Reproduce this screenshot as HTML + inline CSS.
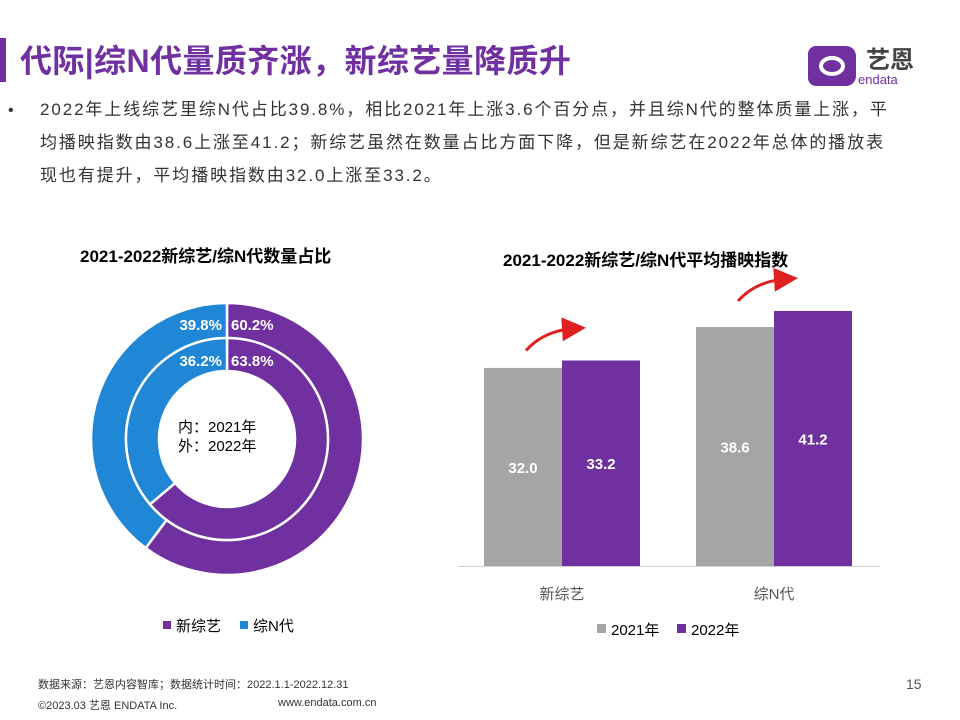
<!DOCTYPE html>
<html><head><meta charset="utf-8"><style>
body{margin:0;width:960px;height:720px;background:#fff;position:relative;overflow:hidden;font-family:"Liberation Sans","Noto Sans CJK SC",sans-serif}
.abs{position:absolute}
</style></head><body>
<div class="abs" style="left:0;top:38px;width:6px;height:44px;background:#7030a0"></div>
<div class="abs" style="left:20px;top:36px;font-size:32px;font-weight:bold;color:#7030a0;letter-spacing:0.4px;white-space:nowrap">代际|综N代量质齐涨，新综艺量降质升</div>
<div class="abs" style="left:808px;top:40px;width:120px;height:46px">
<svg width="120" height="46"><path d="M8 6 h30 a10 10 0 0 1 10 10 v20 a10 10 0 0 1 -10 10 h-30 a8 8 0 0 1 -8 -8 v-24 a8 8 0 0 1 8 -8z" fill="#7030a0"/><ellipse cx="24" cy="26" rx="11" ry="8" fill="none" stroke="#fff" stroke-width="4"/><text x="58" y="28" font-size="24" font-weight="bold" fill="#444" font-family="Noto Sans CJK SC,sans-serif">艺恩</text><text x="50" y="44" font-size="13" fill="#7030a0" font-family="Liberation Sans,sans-serif">endata</text></svg></div>
<div class="abs" style="left:8px;top:102px;font-size:16px;color:#333">•</div>
<div class="abs" style="left:40px;top:93px;font-size:17px;letter-spacing:1.9px;line-height:33px;color:#333;white-space:nowrap">2022年上线综艺里综N代占比39.8%，相比2021年上涨3.6个百分点，并且综N代的整体质量上涨，平<br>均播映指数由38.6上涨至41.2；新综艺虽然在数量占比方面下降，但是新综艺在2022年总体的播放表<br>现也有提升，平均播映指数由32.0上涨至33.2。</div>

<div class="abs" style="left:80px;top:242px;font-size:17px;font-weight:bold;color:#000">2021-2022新综艺/综N代数量占比</div>
<svg class="abs" style="left:0;top:0" width="960" height="720" id="donut"></svg>

<div class="abs" style="left:503px;top:246px;font-size:17px;font-weight:bold;color:#000">2021-2022新综艺/综N代平均播映指数</div>
<svg class="abs" style="left:0;top:0" width="960" height="720" id="bars"></svg>

<div class="abs" style="left:38px;top:676px;font-size:11px;color:#333">数据来源：艺恩内容智库；数据统计时间：2022.1.1-2022.12.31</div>
<div class="abs" style="left:38px;top:697px;font-size:11px;color:#333">©2023.03 艺恩 ENDATA Inc.</div>
<div class="abs" style="left:278px;top:697px;font-size:11px;color:#333">www.endata.com.cn</div>
<div class="abs" style="left:906px;top:676px;font-size:14px;color:#555">15</div>
<script>
const NS='http://www.w3.org/2000/svg';
function mk(p,t,a,txt){const e=document.createElementNS(NS,t);for(const k in a)e.setAttribute(k,a[k]);if(txt!==undefined)e.textContent=txt;p.appendChild(e);return e;}
const donutSeries=['新综艺','综N代'];
const donutColors=['#7030a0','#1f87d6'];
const inner2021=[63.8,36.2];
const outer2022=[60.2,39.8];
const d=document.getElementById('donut');
const cx=227,cy=439;
function pt(r,f){const a=f*2*Math.PI-Math.PI/2;return[cx+r*Math.cos(a),cy+r*Math.sin(a)];}
function ring(vals,r0,r1,nm){let s=0;const tot=vals.reduce((a,b)=>a+b,0);vals.forEach((v,i)=>{const f0=s/tot,f1=(s+v)/tot;s+=v;const L=(f1-f0)>0.5?1:0;const [a,b]=pt(r1,f0),[c,e]=pt(r1,f1),[g,h]=pt(r0,f1),[j,k]=pt(r0,f0);
const p=mk(d,'path',{d:`M${a},${b}A${r1},${r1} 0 ${L} 1 ${c},${e}L${g},${h}A${r0},${r0} 0 ${L} 0 ${j},${k}Z`,fill:donutColors[i],stroke:'#fff','stroke-width':2.5});

});}
ring(outer2022,101,136,'outer');
ring(inner2021,68,101,'inner');
function lbl(x,y,t,anchor){const e=mk(d,'text',{x:x,y:y,'text-anchor':anchor,'font-size':15,'font-weight':'bold',fill:'#fff'},t);}
lbl(231,330,outer2022[0].toFixed(1)+'%','start');lbl(222,330,outer2022[1].toFixed(1)+'%','end');
lbl(231,366,inner2021[0].toFixed(1)+'%','start');lbl(222,366,inner2021[1].toFixed(1)+'%','end');
mk(d,'text',{x:178,y:432,'font-size':15,fill:'#000'},'内：2021年');
mk(d,'text',{x:178,y:451,'font-size':15,fill:'#000'},'外：2022年');
donutSeries.forEach((n,i)=>{const x=163+i*77;const r=mk(d,'rect',{x:x,y:621,width:8,height:8,fill:donutColors[i]});const t=mk(d,'text',{x:x+13,y:631,'font-size':15,fill:'#000'},n);});

const categories=['新综艺','综N代'];
const years=['2021年','2022年'];
const values2021=[32.0,38.6];
const values2022=[33.2,41.2];
const barColors=['#a5a5a5','#7030a0'];
const b=document.getElementById('bars');
const y0=566,k=6.19;
function ys(v){return y0-v*k;}
mk(b,'line',{x1:458,x2:880,y1:y0+0.5,y2:y0+0.5,stroke:'#d0d0d0'});
mk(b,'defs',{}).innerHTML='<marker id="ah" markerWidth="8" markerHeight="8" refX="4" refY="4" orient="auto"><path d="M0,0L8,4L0,8Z" fill="#e02020"/></marker>';
categories.forEach((c,ci)=>{const gx=484+ci*212;
[values2021,values2022].forEach((arr,si)=>{const v=arr[ci];const x=gx+si*78;
const r=mk(b,'rect',{x:x,y:ys(v),width:78,height:y0-ys(v),fill:barColors[si]});


const t=mk(b,'text',{x:x+39,y:ys(v)+(y0-ys(v))/2+6,'text-anchor':'middle','font-size':15,'font-weight':'bold',fill:'#fff'},v.toFixed(1));
});
const ct=mk(b,'text',{x:gx+78,y:599,'text-anchor':'middle','font-size':15,fill:'#555'},c);

const top=ys(Math.max(values2021[ci],values2022[ci]));
const a=mk(b,'path',{d:`M${gx+42},${top-10} Q${gx+60},${top-30} ${gx+90},${top-32}`,fill:'none',stroke:'#e02020','stroke-width':3,'marker-end':'url(#ah)'});
});
years.forEach((n,i)=>{const x=597+i*80;const r=mk(b,'rect',{x:x,y:624,width:9,height:9,fill:barColors[i]});const t=mk(b,'text',{x:x+14,y:635,'font-size':15,fill:'#000'},n);});
</script>
</body></html>
